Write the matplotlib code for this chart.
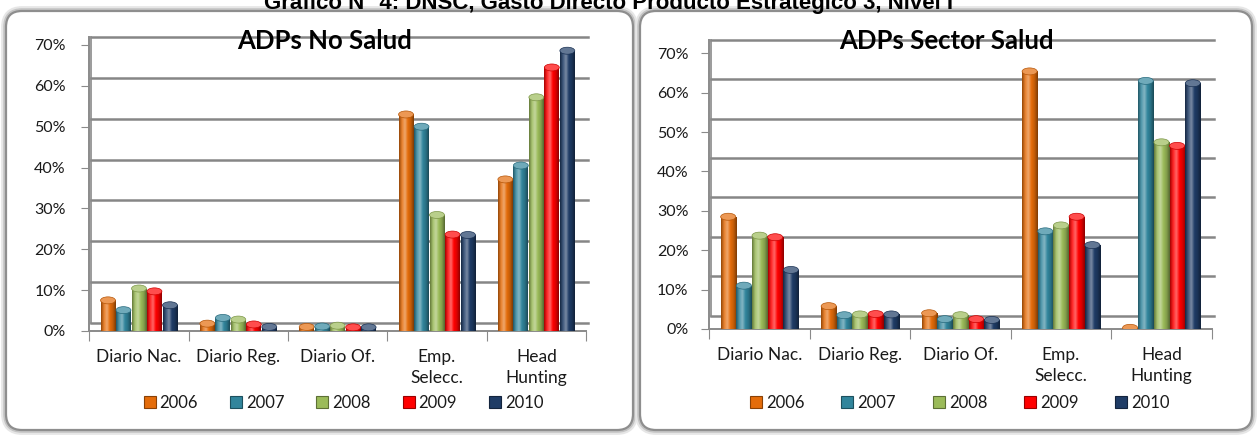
import numpy as np
import matplotlib
matplotlib.use('Agg')
import matplotlib.pyplot as plt
from matplotlib.patches import FancyBboxPatch, Rectangle, Ellipse
from matplotlib.colors import LinearSegmentedColormap, to_rgb
from matplotlib.transforms import offset_copy

# 数据
categories = ['Diario Nac.', 'Diario Reg.', 'Diario Of.', 'Emp.\nSelecc.', 'Head\nHunting']
years = ['2006', '2007', '2008', '2009', '2010']

no_salud = {
    '2006': [7.5, 1.8, 1.0, 53.0, 37.1],
    '2007': [5.1, 3.2, 1.1, 50.0, 40.5],
    '2008': [10.4, 2.8, 1.3, 28.4, 57.2],
    '2009': [9.7, 1.6, 0.9, 23.6, 64.5],
    '2010': [6.3, 1.0, 0.9, 23.5, 68.6],
}
sector_salud = {
    '2006': [28.5, 5.8, 4.0, 65.4, 0.3],
    '2007': [11.0, 3.5, 2.5, 24.8, 63.0],
    '2008': [23.7, 3.7, 3.5, 26.3, 47.4],
    '2009': [23.3, 3.8, 2.5, 28.5, 46.5],
    '2010': [15.0, 3.7, 2.3, 21.3, 62.4],
}

colors = {
    '2006': '#E46C0A',
    '2007': '#31859C',
    '2008': '#9BBB59',
    '2009': '#FF0000',
    '2010': '#1F3C66',
}

W, H = 1257, 437
TXT = '#1a1a1a'
plt.rcParams['font.family'] = ['Lato', 'DejaVu Sans']

fig = plt.figure(figsize=(W / 100, H / 100), dpi=100)


def mix(c, other, t):
    c = np.array(to_rgb(c))
    o = np.array(to_rgb(other))
    return tuple(c * (1 - t) + o * t)


def cyl_cmap(c):
    """圆柱体的横向渐变"""
    return LinearSegmentedColormap.from_list('cyl', [
        mix(c, 'black', 0.35), mix(c, 'white', 0.15), mix(c, 'white', 0.40),
        c, mix(c, 'black', 0.15), mix(c, 'black', 0.45)])


def panel(x0, y0, x1, y1):
    # 圆角面板 (像素, 原点在左上)
    for lw, col in [(7, '#e6e6e6'), (4, '#c4c4c4'), (1.6, '#8e8e8e')]:
        p = FancyBboxPatch((x0 / 100, (H - y1) / 100), (x1 - x0) / 100, (y1 - y0) / 100,
                           boxstyle='round,pad=0,rounding_size=0.16',
                           transform=fig.dpi_scale_trans, facecolor='white',
                           edgecolor=col, linewidth=lw, zorder=-5)
        fig.add_artist(p)


def make_chart(rect_px, data, title, title_x, depth, lbl_pad, leg_x, colspace):
    x0, x1, y0, y1 = rect_px
    ax = fig.add_axes([x0 / W, (H - y0) / H, (x1 - x0) / W, (y0 - y1) / H])
    ax.set_facecolor('none')
    ax.set_xlim(-0.5, 4.5)
    ax.set_ylim(0, 70)

    px_per_unit = (y0 - y1) / 70.0
    cap = 7 / px_per_unit
    back = offset_copy(ax.transData, fig=fig, x=2, y=depth, units='dots')

    # 后墙网格线和地板
    ticks = np.arange(0, 71, 10)
    for t in ticks:
        ax.plot([-0.5, 4.5], [t, t], transform=back, color='#868686', lw=1.8,
                clip_on=False, zorder=1)
    ax.plot([-0.5, -0.5], [0, 70], transform=back, color='#8a8a8a', lw=1.2,
            clip_on=False, zorder=1)

    width = 0.15
    step = 0.156
    for i, y in enumerate(years):
        c = colors[y]
        cmap = cyl_cmap(c)
        grad = np.linspace(0, 1, 64).reshape(1, -1)
        for j, v in enumerate(data[y]):
            xc = j + (i - 2) * step
            xl = xc - width / 2
            base = Ellipse((xc, 0), width, cap, facecolor=mix(c, 'black', 0.3),
                           edgecolor='none', zorder=2)
            ax.add_patch(base)
            body = Rectangle((xl, 0), width, v, facecolor=c, edgecolor='none', zorder=3)
            ax.add_patch(body)
            im = ax.imshow(grad, cmap=cmap, extent=[xl, xl + width, 0, v],
                           aspect='auto', zorder=3, interpolation='bilinear')
            im.set_clip_path(body)
            top = Ellipse((xc, v), width, cap, facecolor=mix(c, 'white', 0.3),
                          edgecolor=mix(c, 'black', 0.2), linewidth=0.5, zorder=4)
            ax.add_patch(top)
    ax.set_xlim(-0.5, 4.5)
    ax.set_ylim(0, 70)

    # 坐标轴
    for s in ['top', 'right']:
        ax.spines[s].set_visible(False)
    for s in ['left', 'bottom']:
        ax.spines[s].set_color('#8a8a8a')
        ax.spines[s].set_linewidth(1.4)
    ax.spines['left'].set_bounds(0, 70 + depth / px_per_unit)
    ax.set_yticks(ticks)
    ax.set_yticklabels(['%d%%' % t for t in ticks], fontsize=11.5, color=TXT)
    ax.tick_params(axis='y', length=6, color='#8a8a8a', pad=lbl_pad)
    ax.set_xticks(np.arange(-0.5, 5, 1))
    ax.set_xticklabels([])
    ax.set_xticks(np.arange(5), minor=True)
    ax.set_xticklabels(categories, minor=True, fontsize=12.5, color=TXT,
                       linespacing=1.4, va='top')
    ax.tick_params(axis='x', which='major', length=7, color='#8a8a8a')
    ax.tick_params(axis='x', which='minor', length=0, pad=13)

    fig.text(title_x / W, 1 - 41 / H, title, ha='center', va='center',
             fontsize=18.5, fontweight='bold', color='black')

    handles = [Rectangle((0, 0), 1, 1, facecolor=colors[y],
                         edgecolor=mix(colors[y], 'black', 0.4), linewidth=0.8)
               for y in years]
    fig.legend(handles, years, loc='center', bbox_to_anchor=(leg_x / W, 1 - 403 / H),
               ncol=5, frameon=False, fontsize=12, handlelength=0.72,
               handleheight=0.72, handletextpad=0.25, columnspacing=colspace,
               labelcolor=TXT)
    return ax


panel(6, 11, 633, 430)
panel(640, 11, 1252, 430)

make_chart((89.3, 586, 331, 45), no_salud, 'ADPs No Salud', 324.5, 8, 11, 343.5, 1.9)
make_chart((709.3, 1211.7, 329, 53.3), sector_salud, 'ADPs Sector Salud', 946.5, 13.5, 9, 960, 2.2)

# 总标题 (参考图中被上边缘截掉一半)
fig.text(608 / W, 1 - 9 / H, 'Gráfico N° 4: DNSC, Gasto Directo Producto Estratégico 3, Nivel I',
         ha='center', va='baseline', fontsize=16, fontweight='bold',
         family=['Liberation Sans', 'DejaVu Sans'], color='black')

fig.savefig('out.png', dpi=100)
